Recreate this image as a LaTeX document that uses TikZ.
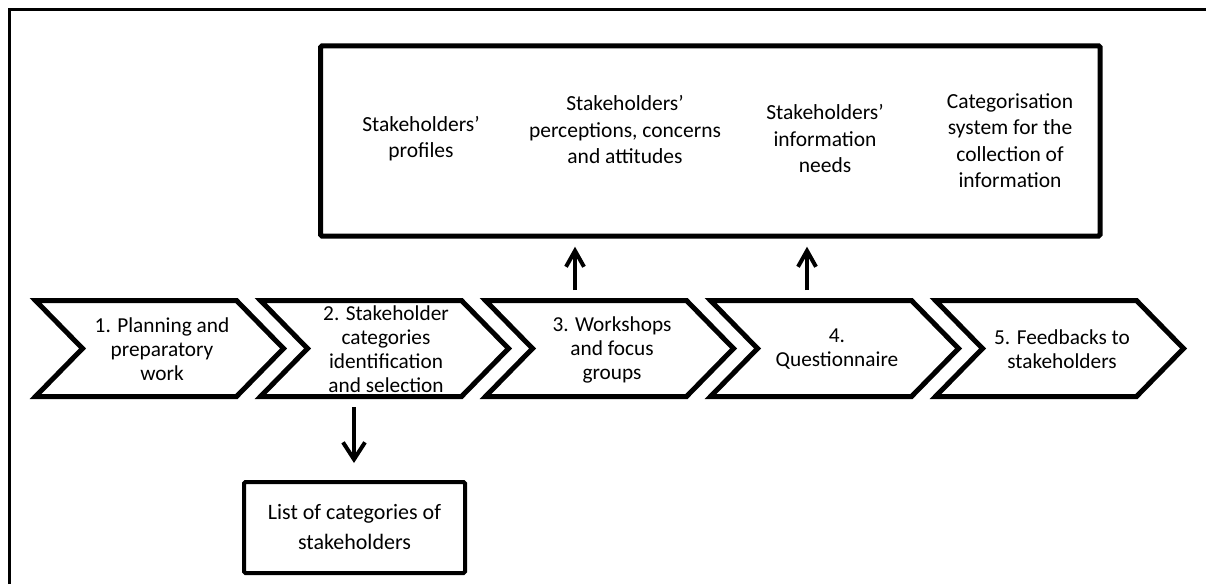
\documentclass[tikz,border=0pt]{standalone}
\usepackage{fontspec}
\setmainfont{Carlito}
\usetikzlibrary{arrows.meta}
\begin{document}
\begin{tikzpicture}[x=1pt,y=-1pt,
  chev/.style={draw=black,line width=5pt,line join=miter,fill=white},
  chevtext/.style={align=center,inner sep=0pt,font=\fontsize{21.3}{24}\selectfont},
  toptext/.style={align=center,inner sep=0pt,font=\fontsize{21.5}{26.5}\selectfont},
  bigbox/.style={draw=black,line width=5pt,rounded corners=1.5pt,inner sep=0pt},
  listbox/.style={draw=black,line width=4pt,rounded corners=1.5pt,inner sep=0pt,align=center,font=\fontsize{22}{30}\selectfont},
  uparr/.style={line width=4.2pt,-{Straight Barb[length=16pt,width=18pt,line width=4pt]}},
  downarr/.style={line width=4.2pt,-{Straight Barb[length=17pt,width=22pt,line width=4pt]}},
  frameline/.style={draw=black,line width=2.5pt}]
\useasboundingbox (0,0) rectangle (1206,584);
% outer frame
\draw[frameline] (9.5,584) -- (9.5,9.5) -- (1206,9.5);
% top box
\node[bigbox,minimum width=779.5pt,minimum height=190.2pt] (top) at (710.25,140.9) {};
\node[toptext] (t1) at (421,138.5) {Stakeholders’\\profiles};
\node[toptext] (t2) at (625,129.5) {Stakeholders’\\perceptions, concerns\\and attitudes};
\node[toptext] (t3) at (825,138.5) {Stakeholders’\\information\\needs};
\node[toptext] (t4) at (1010,140.5) {Categorisation\\system for the\\collection of\\information};
% chevrons
\foreach \i in {0,...,4}{
  \pgfmathsetmacro{\dx}{225*\i}
  \draw[chev] (35.5+\dx,300.5) -- (236.5+\dx,300.5) -- (283.5+\dx,348.5) -- (236.5+\dx,396.5) -- (35.5+\dx,396.5) -- (82.5+\dx,348.5) -- cycle;
}
\node[chevtext] (c1) at (162,349) {1. Planning and\\preparatory\\work};
\node[chevtext] (c2) at (386,349) {2. Stakeholder\\categories\\identification\\and selection};
\node[chevtext] (c3) at (612,350) {3. Workshops\\and focus\\groups};
\node[chevtext] (c4) at (837,349) {4.\\Questionnaire};
\node[chevtext] (c5) at (1062,349.5) {5. Feedbacks to\\stakeholders};
% list box
\node[listbox,minimum width=221pt,minimum height=91pt] (lst) at (354.5,527.5) {List of categories of\\stakeholders};
% arrows
\coordinate (u3s) at (575,290);
\coordinate (u3e) at (575,246.7);
\coordinate (u4s) at (807,290);
\coordinate (u4e) at (807,246.7);
\coordinate (d2s) at (354,407);
\coordinate (d2e) at (354,463);
\draw[uparr] (u3s) -- (u3e);
\draw[uparr] (u4s) -- (u4e);
\draw[downarr] (d2s) -- (d2e);
\end{tikzpicture}
\end{document}
